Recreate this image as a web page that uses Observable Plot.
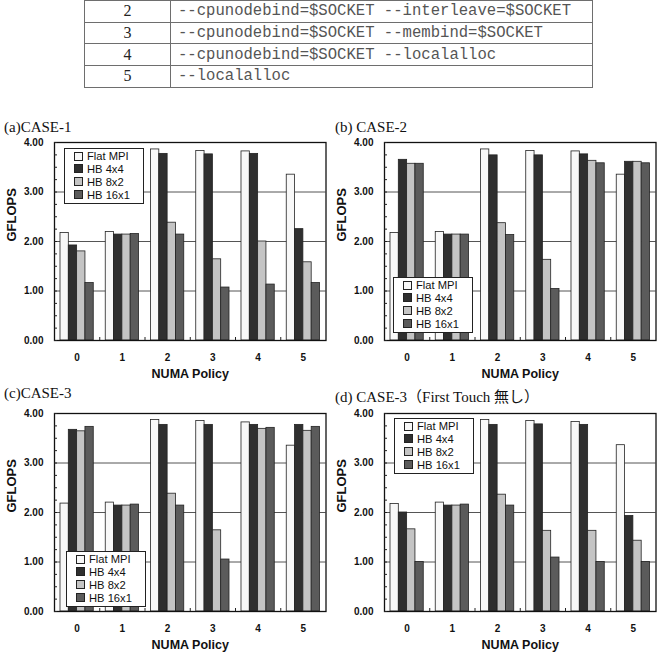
<!DOCTYPE html>
<html>
<head>
<meta charset="utf-8">
<script src="https://cdn.jsdelivr.net/npm/d3@7"></script>
<script src="https://cdn.jsdelivr.net/npm/@observablehq/plot@0.6"></script>
<style>
  html, body { margin: 0; padding: 0; background: #fff; }
  #root { position: relative; width: 660px; height: 657px; overflow: hidden; background: #fff; }
  .panel { position: absolute; }
  .title { position: absolute; font-family: "Liberation Serif", "Times New Roman", "Noto Sans CJK JP", serif; font-size: 15px; line-height: 15px; color: #111; white-space: nowrap; }
  .legend { position: absolute; box-sizing: border-box; border: 1px solid #222; background: #fff; padding: 1px 3px 1px 9px; font-family: "Liberation Sans", Arial, sans-serif; font-size: 11.2px; line-height: 12.9px; color: #111; white-space: nowrap; }
  .legend .sw { display: inline-block; width: 7px; height: 7px; border: 1px solid #222; margin-right: 4px; vertical-align: -0.5px; }
  table.opts { position: absolute; left: 84px; top: 0px; width: 509px; border-collapse: collapse; }
  table.opts td { border: 1.5px solid #6e6e6e; height: 20.2px; padding: 0; }
  table.opts tr { height: 21.7px; }
  table.opts td.num { width: 85px; text-align: center; font-family: "Liberation Serif", "Times New Roman", serif; font-size: 16px; color: #222; }
  table.opts td.code { padding-left: 7px; font-family: "Liberation Mono", "Courier New", monospace; font-size: 15.6px; color: #555; white-space: pre; }
</style>
</head>
<body>
<div id="root"></div>
<script>
// ---- data ----
const policyNumbers = ["2", "3", "4", "5"];
const policyOptions = [
  "--cpunodebind=$SOCKET --interleave=$SOCKET",
  "--cpunodebind=$SOCKET --membind=$SOCKET",
  "--cpunodebind=$SOCKET --localalloc",
  "--localalloc"
];

const policies = [0, 1, 2, 3, 4, 5];
const seriesNames = ["Flat MPI", "HB 4x4", "HB 8x2", "HB 16x1"];
const seriesColors = ["#f8f8f8", "#2f2f2f", "#c4c4c4", "#5b5b5b"];

const yTicks = [0, 1, 2, 3, 4];
const gridTicks = [1, 2, 3];
const minorYTicks = [0, 0.25, 0.5, 0.75, 1, 1.25, 1.5, 1.75, 2, 2.25, 2.5, 2.75, 3, 3.25, 3.5, 3.75, 4];
const groupBoundaries = [0.5, 1.5, 2.5, 3.5, 4.5];

const panelTitles = ["(a)CASE-1", "(b) CASE-2", "(c)CASE-3", "(d) CASE-3（First Touch 無し）"];
const xLabel = "NUMA Policy";
const yLabel = "GFLOPS";

// rows: Flat MPI, HB 4x4, HB 8x2, HB 16x1 ; columns: NUMA policy 0..5
const case1 = [
  [2.17, 2.19, 3.86, 3.83, 3.82, 3.35],
  [1.92, 2.14, 3.77, 3.76, 3.77, 2.25],
  [1.80, 2.14, 2.38, 1.64, 2.00, 1.58],
  [1.16, 2.15, 2.14, 1.07, 1.13, 1.16]
];
const case2 = [
  [2.17, 2.19, 3.86, 3.83, 3.82, 3.35],
  [3.65, 2.14, 3.74, 3.74, 3.76, 3.61],
  [3.57, 2.14, 2.37, 1.63, 3.63, 3.61],
  [3.57, 2.14, 2.13, 1.04, 3.58, 3.58]
];
const case3 = [
  [2.18, 2.20, 3.87, 3.85, 3.82, 3.35],
  [3.67, 2.14, 3.77, 3.77, 3.77, 3.77],
  [3.64, 2.14, 2.38, 1.64, 3.69, 3.65],
  [3.73, 2.16, 2.14, 1.05, 3.71, 3.73]
];
const case3NoFirstTouch = [
  [2.17, 2.20, 3.87, 3.85, 3.83, 3.36],
  [2.00, 2.14, 3.77, 3.78, 3.77, 1.93],
  [1.66, 2.14, 2.36, 1.63, 1.63, 1.43],
  [1.00, 2.16, 2.14, 1.09, 1.00, 1.00]
];

// ---- layout ----
const root = document.getElementById("root");

// table
const table = document.createElement("table");
table.className = "opts";
policyNumbers.forEach((n, i) => {
  const tr = document.createElement("tr");
  const a = document.createElement("td"); a.className = "num"; a.textContent = n;
  const b = document.createElement("td"); b.className = "code"; b.textContent = policyOptions[i];
  tr.appendChild(a); tr.appendChild(b); table.appendChild(tr);
});
root.appendChild(table);

const barWidth = 0.18375;
const groupHalf = barWidth * seriesNames.length / 2;

function makePanel(values) {
  const rows = [];
  policies.forEach((p, pi) => {
    seriesNames.forEach((s, si) => {
      rows.push({policy: p, series: s, si, value: values[si][pi]});
    });
  });
  return Plot.plot({
    width: 330,
    height: 10 + 198 + 50,
    marginTop: 10,
    marginLeft: 54,
    marginRight: 4.5,
    marginBottom: 50,
    style: {fontFamily: "'Liberation Sans', Arial, sans-serif", background: "transparent", color: "#111", overflow: "visible"},
    x: {domain: [-0.5, 5.5]},
    y: {domain: [0, 4]},
    color: {domain: seriesNames, range: seriesColors},
    marks: [
      Plot.gridY(gridTicks, {stroke: "#555", strokeOpacity: 1, strokeWidth: 1}),
      Plot.rect(rows, {
        x1: d => d.policy - groupHalf + d.si * barWidth,
        x2: d => d.policy - groupHalf + (d.si + 1) * barWidth,
        y1: () => 0,
        y2: "value",
        fill: "series",
        stroke: "#222",
        strokeWidth: 0.8
      }),
      Plot.frame({stroke: "#111", strokeWidth: 1.3}),
      Plot.axisY({ticks: yTicks, tickSize: 0, tickPadding: 11, tickFormat: d3.format(".2f"), fontSize: 10, fontWeight: "bold", label: null}),
      Plot.axisY({ticks: minorYTicks, tickSize: -3, tickFormat: () => "", label: null, stroke: "#222"}),
      Plot.axisX({ticks: policies, tickSize: 0, tickPadding: 13, tickFormat: d => String(d), fontSize: 10, fontWeight: "bold", label: null}),
      Plot.axisX({ticks: groupBoundaries, tickSize: -3, tickFormat: () => "", label: null, stroke: "#222"}),
      Plot.text([yLabel], {text: d => d, frameAnchor: "left", rotate: -90, dx: -43, fontSize: 13, fontWeight: "bold"}),
      Plot.text([xLabel], {text: d => d, frameAnchor: "bottom", dy: 37.5, fontSize: 12.5, fontWeight: "bold"})
    ]
  });
}

function addLegend(left, top) {
  const lg = document.createElement("div");
  lg.className = "legend";
  lg.style.left = left + "px";
  lg.style.top = top + "px";
  lg.style.width = "80px";
  seriesNames.forEach((s, i) => {
    const row = document.createElement("div");
    const sw = document.createElement("span");
    sw.className = "sw";
    sw.style.background = seriesColors[i];
    row.appendChild(sw);
    row.appendChild(document.createTextNode(s));
    lg.appendChild(row);
  });
  root.appendChild(lg);
}

function addTitle(text, left, top) {
  const t = document.createElement("div");
  t.className = "title";
  t.style.left = left + "px";
  t.style.top = top + "px";
  t.textContent = text;
  root.appendChild(t);
}

const panels = [
  {data: case1, left: 0, top: 132, legend: [64, 148], title: [4, 120]},
  {data: case2, left: 330, top: 132, legend: [393, 277], title: [335, 120]},
  {data: case3, left: 0, top: 403, legend: [66, 551], title: [4, 386]},
  {data: case3NoFirstTouch, left: 330, top: 403, legend: [394, 418], title: [335, 390]}
];

panels.forEach((p, i) => {
  const wrap = document.createElement("div");
  wrap.className = "panel";
  wrap.style.left = p.left + "px";
  wrap.style.top = p.top + "px";
  wrap.appendChild(makePanel(p.data));
  root.appendChild(wrap);
  addTitle(panelTitles[i], p.title[0], p.title[1]);
  addLegend(p.legend[0], p.legend[1]);
});
</script>
</body>
</html>
